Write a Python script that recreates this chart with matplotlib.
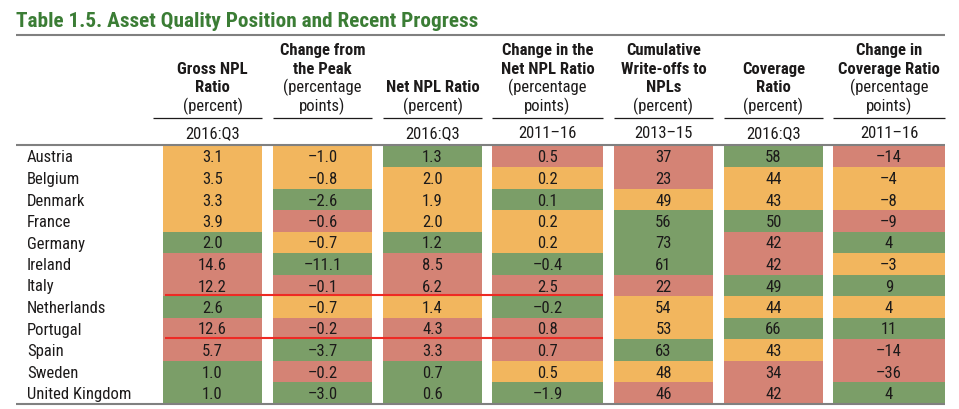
import matplotlib
matplotlib.use("Agg")
import matplotlib.pyplot as plt
from matplotlib.patches import Rectangle
from matplotlib import font_manager

# ---------------- data ----------------
countries = ["Austria", "Belgium", "Denmark", "France", "Germany", "Ireland",
             "Italy", "Netherlands", "Portugal", "Spain", "Sweden", "United Kingdom"]

gross_npl = [3.1, 3.5, 3.3, 3.9, 2.0, 14.6, 12.2, 2.6, 12.6, 5.7, 1.0, 1.0]
change_peak = [-1.0, -0.8, -2.6, -0.6, -0.7, -11.1, -0.1, -0.7, -0.2, -3.7, -0.2, -3.0]
net_npl = [1.3, 2.0, 1.9, 2.0, 1.2, 8.5, 6.2, 1.4, 4.3, 3.3, 0.7, 0.6]
change_net_npl = [0.5, 0.2, 0.1, 0.2, 0.2, -0.4, 2.5, -0.2, 0.8, 0.7, 0.5, -1.9]
write_offs = [37, 23, 49, 56, 73, 61, 22, 54, 53, 63, 48, 46]
coverage = [58, 44, 43, 50, 42, 42, 49, 44, 66, 43, 34, 42]
change_coverage = [-14, -4, -8, -9, 4, -3, 9, 4, 11, -14, -36, 4]

# traffic-light classes: G = green, O = orange, R = red
cls_gross_npl = list("OOOOGRRGRRGG")
cls_change_peak = list("OOGROGRORGRG")
cls_net_npl = list("GOOOGRRORRGG")
cls_change_net_npl = list("ROGOOGRGRROG")
cls_write_offs = list("RROGGGROOGOR")
cls_coverage = list("GOOGRRGOGORR")
cls_change_coverage = list("ROORGOGOGRRG")

header_bold = [["Gross NPL", "Ratio"], ["Change from", "the Peak"], ["Net NPL Ratio"],
               ["Change in the", "Net NPL Ratio"], ["Cumulative", "Write-offs to", "NPLs"],
               ["Coverage", "Ratio"], ["Change in", "Coverage Ratio"]]
header_regular = [["(percent)"], ["(percentage", "points)"], ["(percent)"],
                  ["(percentage", "points)"], ["(percent)"], ["(percent)"],
                  ["(percentage", "points)"]]
sub_headers = ["2016:Q3", "", "2016:Q3", "2011\u201316", "2013\u201315", "2016:Q3", "2011\u201316"]
decimals = [1, 1, 1, 1, 0, 0, 0]
title = "Table 1.5. Asset Quality Position and Recent Progress"
highlight_after = ["Italy", "Portugal"]   # red rules under these rows

columns = [gross_npl, change_peak, net_npl, change_net_npl, write_offs, coverage, change_coverage]
classes = [cls_gross_npl, cls_change_peak, cls_net_npl, cls_change_net_npl,
           cls_write_offs, cls_coverage, cls_change_coverage]

# ---------------- style / layout ----------------
palette = {"G": "#7b9e68", "O": "#f2b65e", "R": "#d48375"}
txt = "#1c1a1a"
title_col = "#3b7d35"
rule_gray = "#808080"

avail = {f.name for f in font_manager.fontManager.ttflist}
font = "DejaVu Sans"
for cand in ["Roboto Condensed", "Archivo Narrow", "Barlow Semi Condensed", "Asap Condensed",
             "Fira Sans Condensed", "Encode Sans Condensed"]:
    if cand in avail:
        font = cand
        break
plt.rcParams["font.family"] = [font, "DejaVu Sans"]

W, H = 959, 409
fig = plt.figure(figsize=(W / 100, H / 100), dpi=100)
ax = fig.add_axes([0, 0, 1, 1])
ax.set_xlim(0, W)
ax.set_ylim(H, 0)
ax.axis("off")

col_edges = [(163, 262), (273, 372), (383, 482), (492, 603), (614, 713), (724, 823), (833, 945)]
table_left, table_right = 16, 945
row_top0 = 145.5
row_h = 21.5
body_fs = 12
head_fs = 12

# title
ax.text(table_left, 27, title, fontsize=15.3, fontweight="bold", color=title_col,
        ha="left", va="baseline")
ax.plot([table_left, table_right], [34.5, 34.5], color=rule_gray, lw=1.5, solid_capstyle="butt")

# headers
line_gap = 18.7
last_base = 111
for j, (l, r) in enumerate(col_edges):
    cx = (l + r) / 2
    lines = [(s, "bold") for s in header_bold[j]] + [(s, "normal") for s in header_regular[j]]
    n = len(lines)
    for k, (s, w) in enumerate(lines):
        y = last_base - (n - 1 - k) * line_gap
        ax.text(cx, y, s, fontsize=head_fs, fontweight=w, color=txt, ha="center", va="baseline")
    rl = l - 10 if j == 0 else l
    ax.plot([rl, r], [117.5, 117.5], color=txt, lw=0.9, solid_capstyle="butt")
    if sub_headers[j]:
        ax.text(cx, 138.5, sub_headers[j], fontsize=body_fs, color=txt, ha="center", va="baseline")

# body
nrows = len(countries)
for i, c in enumerate(countries):
    top = row_top0 + i * row_h
    ax.text(27, top + 17, c, fontsize=body_fs, color=txt, ha="left", va="baseline")
    for j, (l, r) in enumerate(col_edges):
        ax.add_patch(Rectangle((l, top), r - l, row_h, facecolor=palette[classes[j][i]],
                               edgecolor="none"))
        v = columns[j][i]
        s = f"{v:.{decimals[j]}f}".replace("-", "\u2013")
        ax.text((l + r) / 2, top + 17, s, fontsize=body_fs, color=txt, ha="center", va="baseline")

# rules
ax.plot([table_left, table_right], [145, 145], color=rule_gray, lw=1.5, solid_capstyle="butt")
bottom = row_top0 + nrows * row_h
ax.plot([table_left, table_right], [bottom, bottom], color=rule_gray, lw=1.5, solid_capstyle="butt")

for name in highlight_after:
    i = countries.index(name)
    y = row_top0 + (i + 1) * row_h - 1.2
    ax.plot([165, col_edges[3][1]], [y, y], color="#ee2a24", lw=1.5, solid_capstyle="butt")

fig.savefig("out.png", dpi=100)
